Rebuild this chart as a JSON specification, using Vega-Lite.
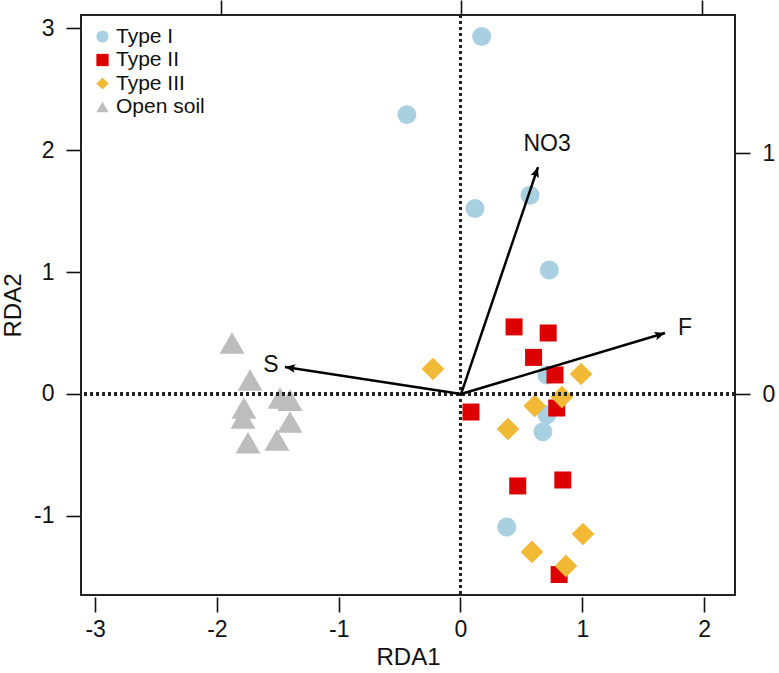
{
  "$schema": "https://vega.github.io/schema/vega-lite/v6.json",
  "width": 654,
  "height": 580,
  "autosize": {"type": "none"},
  "padding": {"left": 81, "top": 15, "right": 44, "bottom": 78},
  "config": {
    "font": "Liberation Sans",
    "view": {"stroke": "#222222", "strokeWidth": 2},
    "axis": {
      "grid": false,
      "domain": false,
      "tickColor": "#111111",
      "tickWidth": 1.6,
      "labelColor": "#111111",
      "titleColor": "#111111",
      "labelFontSize": 23,
      "titleFontSize": 24,
      "titleFontWeight": "normal",
      "labelFont": "Liberation Sans",
      "titleFont": "Liberation Sans"
    },
    "legend": {
      "orient": "none",
      "legendX": 11,
      "legendY": 11,
      "labelFontSize": 21,
      "labelFont": "Liberation Sans",
      "labelColor": "#111111",
      "symbolSize": 150,
      "symbolStrokeWidth": 0,
      "symbolOpacity": 1,
      "rowPadding": 1.5,
      "labelOffset": 3,
      "padding": 0
    }
  },
  "datasets": {
    "sites": [
      {"group": "Type I", "RDA1": 0.174, "RDA2": 2.93},
      {"group": "Type I", "RDA1": -0.44, "RDA2": 2.29},
      {"group": "Type I", "RDA1": 0.119, "RDA2": 1.52},
      {"group": "Type I", "RDA1": 0.571, "RDA2": 1.63},
      {"group": "Type I", "RDA1": 0.729, "RDA2": 1.016},
      {"group": "Type I", "RDA1": 0.71, "RDA2": 0.156},
      {"group": "Type I", "RDA1": 0.71, "RDA2": -0.17},
      {"group": "Type I", "RDA1": 0.677, "RDA2": -0.31},
      {"group": "Type I", "RDA1": 0.38, "RDA2": -1.09},
      {"group": "Type II", "RDA1": 0.44, "RDA2": 0.55},
      {"group": "Type II", "RDA1": 0.72, "RDA2": 0.5},
      {"group": "Type II", "RDA1": 0.6, "RDA2": 0.3},
      {"group": "Type II", "RDA1": 0.776, "RDA2": 0.156},
      {"group": "Type II", "RDA1": 0.79, "RDA2": -0.115},
      {"group": "Type II", "RDA1": 0.086, "RDA2": -0.148},
      {"group": "Type II", "RDA1": 0.47, "RDA2": -0.754},
      {"group": "Type II", "RDA1": 0.84, "RDA2": -0.705},
      {"group": "Type II", "RDA1": 0.81, "RDA2": -1.48},
      {"group": "Type III", "RDA1": -0.226, "RDA2": 0.205},
      {"group": "Type III", "RDA1": 0.99, "RDA2": 0.164},
      {"group": "Type III", "RDA1": 0.833, "RDA2": -0.025},
      {"group": "Type III", "RDA1": 0.61, "RDA2": -0.098},
      {"group": "Type III", "RDA1": 0.39, "RDA2": -0.287},
      {"group": "Type III", "RDA1": 1.006, "RDA2": -1.148},
      {"group": "Type III", "RDA1": 0.587, "RDA2": -1.295},
      {"group": "Type III", "RDA1": 0.866, "RDA2": -1.41},
      {"group": "Open soil", "RDA1": -1.876, "RDA2": 0.418},
      {"group": "Open soil", "RDA1": -1.728, "RDA2": 0.115},
      {"group": "Open soil", "RDA1": -1.482, "RDA2": -0.033},
      {"group": "Open soil", "RDA1": -1.4, "RDA2": -0.05},
      {"group": "Open soil", "RDA1": -1.778, "RDA2": -0.115},
      {"group": "Open soil", "RDA1": -1.786, "RDA2": -0.197},
      {"group": "Open soil", "RDA1": -1.4, "RDA2": -0.23},
      {"group": "Open soil", "RDA1": -1.745, "RDA2": -0.4},
      {"group": "Open soil", "RDA1": -1.507, "RDA2": -0.377}
    ],
    "arrows": [
      {"var": "NO3", "x": 0.32, "y": 0.942, "labx": 0.358, "laby": 1.037},
      {"var": "F", "x": 0.848, "y": 0.253, "labx": 0.931, "laby": 0.274},
      {"var": "S", "x": -0.732, "y": 0.112, "labx": -0.79, "laby": 0.12}
    ]
  },
  "layer": [
    {
      "data": {"name": "sites"},
      "encoding": {
        "x": {
          "field": "RDA1", "type": "quantitative",
          "scale": {"domain": [-3.116, 2.254], "nice": false, "zero": false},
          "axis": {"orient": "bottom", "values": [-3, -2, -1, 0, 1, 2], "labelExpr": "'' + datum.value", "tickSize": 15, "offset": 2, "labelPadding": 6, "title": "RDA1", "titlePadding": 4}
        },
        "y": {
          "field": "RDA2", "type": "quantitative",
          "scale": {"domain": [-1.648, 3.107], "nice": false, "zero": false},
          "axis": {"orient": "left", "values": [-1, 0, 1, 2, 3], "labelExpr": "'' + datum.value", "tickSize": 14, "offset": 1, "labelPadding": 12, "title": "RDA2", "titlePadding": 8}
        },
        "color": {
          "field": "group", "type": "nominal",
          "scale": {"domain": ["Type I", "Type II", "Type III", "Open soil"], "range": ["#A9D0E0", "#DD0000", "#F2B937", "#BDBDBD"]},
          "legend": {"title": null}
        },
        "shape": {
          "field": "group", "type": "nominal",
          "scale": {"domain": ["Type I", "Type II", "Type III", "Open soil"], "range": ["circle", "square", "diamond", "triangle-up"]},
          "legend": {"title": null}
        }
      },
      "layer": [
        {
          "transform": [{"filter": "datum.group === 'Type I'"}],
          "mark": {"type": "point", "filled": true, "opacity": 1, "strokeWidth": 0, "size": 361}
        },
        {
          "transform": [{"filter": "datum.group === 'Type II'"}],
          "mark": {"type": "point", "filled": true, "opacity": 1, "strokeWidth": 0, "size": 289}
        },
        {
          "transform": [{"filter": "datum.group === 'Type III'"}],
          "mark": {"type": "point", "filled": true, "opacity": 1, "strokeWidth": 0, "size": 515}
        },
        {
          "transform": [{"filter": "datum.group === 'Open soil'"}],
          "mark": {"type": "point", "filled": true, "opacity": 1, "strokeWidth": 0, "size": 625}
        }
      ]
    },
    {
      "data": {"name": "sites"},
      "layer": [
        {
          "mark": {"type": "rule", "strokeDash": [2.2, 3.8], "strokeWidth": 2.4, "color": "#222222"},
          "encoding": {"x": {"datum": 0, "type": "quantitative", "scale": {"domain": [-3.116, 2.254], "nice": false, "zero": false}, "axis": null}}
        },
        {
          "mark": {"type": "rule", "strokeDash": [2.2, 3.8], "strokeWidth": 2.4, "color": "#222222"},
          "encoding": {"y": {"datum": 0, "type": "quantitative", "scale": {"domain": [-1.648, 3.107], "nice": false, "zero": false}, "axis": null}}
        }
      ]
    },
    {
      "data": {"name": "arrows"},
      "transform": [{"calculate": "atan2(datum.x, datum.y) * 180 / PI", "as": "ang"}],
      "layer": [
        {
          "mark": {"type": "rule", "strokeWidth": 2.5, "color": "#000000", "strokeCap": "butt"},
          "encoding": {
            "x": {"field": "x", "type": "quantitative"},
            "x2": {"datum": 0},
            "y": {"field": "y", "type": "quantitative"},
            "y2": {"datum": 0}
          }
        },
        {
          "mark": {"type": "point", "filled": true, "color": "#000000", "opacity": 1, "shape": "M0,0 L-0.42,1 L0,0.8 L0.42,1 Z", "size": 420, "strokeWidth": 0},
          "encoding": {
            "x": {
              "field": "x", "type": "quantitative",
              "scale": {"domain": [-1.58, 1.139], "nice": false, "zero": false},
              "axis": {"orient": "top", "values": [-1, 0, 1], "labels": false, "tickSize": 15, "title": null}
            },
            "y": {
              "field": "y", "type": "quantitative",
              "scale": {"domain": [-0.834, 1.573], "nice": false, "zero": false},
              "axis": {"orient": "right", "values": [0, 1], "labelExpr": "'' + datum.value", "tickSize": 15, "labelPadding": 12, "title": null}
            },
            "angle": {"field": "ang", "type": "quantitative", "scale": null}
          }
        },
        {
          "mark": {"type": "text", "fontSize": 23, "font": "Liberation Sans", "align": "center", "baseline": "middle", "color": "#111111"},
          "encoding": {
            "x": {"field": "labx", "type": "quantitative"},
            "y": {"field": "laby", "type": "quantitative"},
            "text": {"field": "var", "type": "nominal"}
          }
        }
      ]
    }
  ],
  "resolve": {"scale": {"x": "independent", "y": "independent"}}
}
